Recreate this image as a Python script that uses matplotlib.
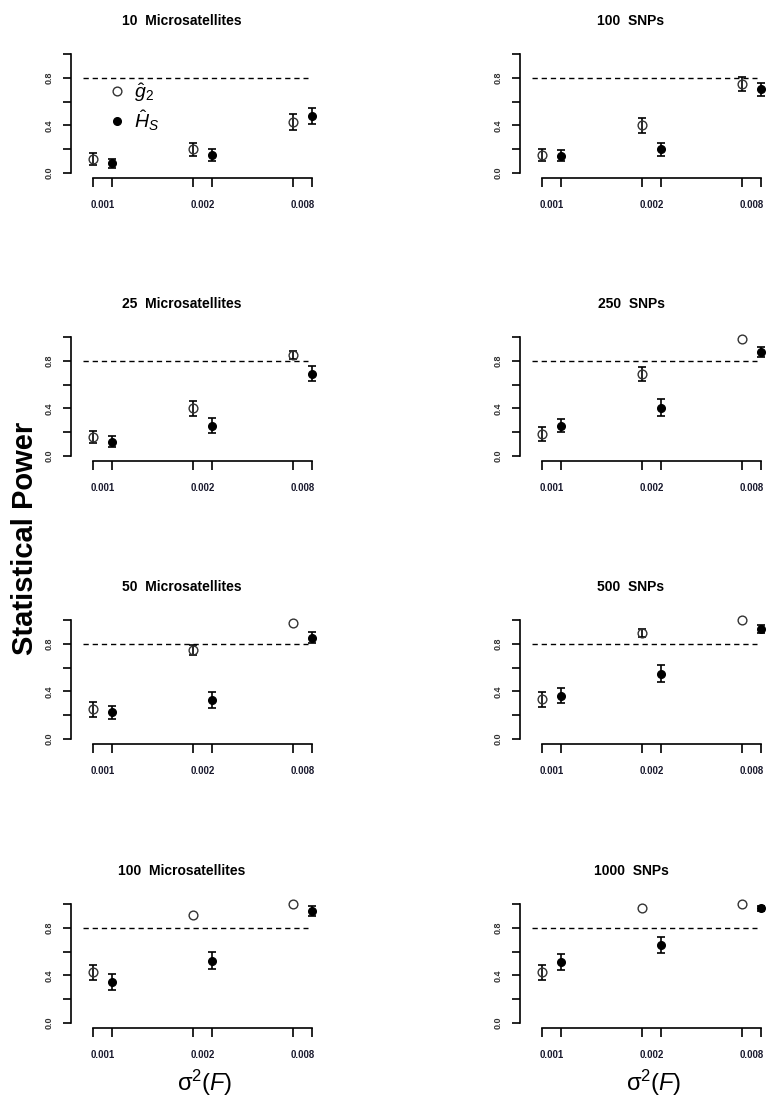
import numpy as np
import matplotlib.pyplot as plt
from matplotlib.lines import Line2D

plt.rcParams['font.family'] = ['Liberation Sans', 'DejaVu Sans']
plt.rcParams['mathtext.fontset'] = 'custom'
plt.rcParams['mathtext.rm'] = 'Liberation Sans'
plt.rcParams['mathtext.it'] = 'Liberation Sans:italic'

# data: power of g2 (open) and Hs (filled) per sigma^2(F)
sigma2_labels = ["0.001", "0.002", "0.008"]
power_threshold = 0.8

micro_titles = ["10  Microsatellites", "25  Microsatellites",
                "50  Microsatellites", "100  Microsatellites"]
micro_g2 = [[0.12, 0.20, 0.43], [0.16, 0.40, 0.85],
            [0.25, 0.75, 0.975], [0.425, 0.91, 1.0]]
micro_g2_err = [[0.05, 0.055, 0.065], [0.05, 0.06, 0.035],
                [0.064, 0.04, 0.0], [0.064, 0.0, 0.0]]
micro_hs = [[0.08, 0.15, 0.48], [0.12, 0.255, 0.69],
            [0.225, 0.325, 0.85], [0.345, 0.525, 0.94]]
micro_hs_err = [[0.035, 0.05, 0.065], [0.045, 0.065, 0.063],
                [0.056, 0.066, 0.047], [0.066, 0.068, 0.04]]

snp_titles = ["100  SNPs", "250  SNPs", "500  SNPs", "1000  SNPs"]
snp_g2 = [[0.155, 0.40, 0.745], [0.185, 0.69, 0.98],
          [0.335, 0.89, 1.0], [0.425, 0.965, 1.0]]
snp_g2_err = [[0.05, 0.065, 0.06], [0.06, 0.06, 0.0],
              [0.062, 0.035, 0.0], [0.064, 0.0, 0.0]]
snp_hs = [[0.145, 0.20, 0.705], [0.255, 0.405, 0.875],
          [0.365, 0.55, 0.925], [0.51, 0.655, 0.965]]
snp_hs_err = [[0.045, 0.055, 0.055], [0.055, 0.07, 0.04],
              [0.065, 0.07, 0.035], [0.066, 0.068, 0.02]]

W, H = 769, 1102
fig = plt.figure(figsize=(W / 100, H / 100), dpi=100)

col_left = [71, 520]          # px of the y axis line
row_zero = [173, 456, 739, 1023]  # px of y = 0
unit = 119                    # px per 1.0 on y
xlim = (-0.22, 2.30)
ax_w = (xlim[1] - xlim[0]) * 100
offset = 0.19
xg = np.arange(3)


def errbars(ax, x, y, e):
    x, y, e = np.asarray(x), np.asarray(y), np.asarray(e)
    keep = e > 0.015
    if keep.any():
        ax.errorbar(x[keep], y[keep], yerr=e[keep], fmt='none', ecolor='black',
                    elinewidth=1.2, capsize=2.6, capthick=1.2, zorder=3)


def panel(col, row, title, g2, g2_err, hs, hs_err, legend=False, xlabel=False):
    left = col_left[col]
    y0 = row_zero[row]
    rect = [left / W, 1 - (y0 + 0.04 * unit) / H, ax_w / W, 1.08 * unit / H]
    ax = fig.add_axes(rect)
    ax.set_xlim(*xlim)
    ax.set_ylim(-0.04, 1.04)
    for s in ['top', 'right']:
        ax.spines[s].set_visible(False)
    ax.spines['left'].set_bounds(0, 1)
    ax.spines['bottom'].set_bounds(xg[0], xg[-1] + offset)
    for s in ['left', 'bottom']:
        ax.spines[s].set_linewidth(1.2)

    ax.set_yticks(np.arange(0, 1.01, 0.2))
    ax.set_yticklabels(['0.0', '', '0.4', '', '0.8', ''])
    ax.tick_params(axis='y', length=5.8, width=1.2, labelsize=6.5, pad=7,
                   labelrotation=90, labelcolor='#333333')
    for lab in ax.get_yticklabels():
        lab.set_fontweight('bold')
        lab.set_va('center')

    ax.set_xticks(np.sort(np.concatenate([xg, xg + offset])))
    ax.set_xticklabels([])
    ax.set_xticks(xg + offset / 2, minor=True)
    ax.set_xticklabels(sigma2_labels, minor=True, fontweight='bold')
    ax.tick_params(axis='x', which='major', length=6.5, width=1.2)
    ax.tick_params(axis='x', which='minor', length=0, labelsize=7, pad=16,
                   labelcolor='#1a1a2e')

    ax.hlines(power_threshold, -0.10, 2.15, colors='black', linewidth=1.0,
              linestyles=(0, (3.8, 2.8)))

    errbars(ax, xg, g2, g2_err)
    errbars(ax, xg + offset, hs, hs_err)
    ax.plot(xg, g2, 'o', mfc='none', mec='#333333', mew=1.0, ms=6.3, zorder=4)
    ax.plot(xg + offset, hs, 'o', color='black', ms=5.5, zorder=4)

    fig.text((left + 111) / W, 1 - (y0 - unit - 33) / H, title,
             ha='center', va='center', fontsize=10, fontweight='bold')

    if legend:
        handles = [Line2D([], [], ls='none', marker='o', mfc='none', mec='#333333',
                          mew=1.0, ms=6.3),
                   Line2D([], [], ls='none', marker='o', color='black', ms=5.5)]
        ax.legend(handles, [r'$\hat{g}_2$', r'$\hat{H}_S$'], loc='center left',
                  bbox_to_anchor=(0.147, 0.55), frameon=False, fontsize=14,
                  handlelength=0.95, handletextpad=0.4, labelspacing=0.2,
                  borderpad=0, borderaxespad=0)
    if xlabel:
        ax.set_xlabel(r'$\mathrm{σ}^2(F)$', fontsize=17)
        ax.xaxis.set_label_coords(0.53, -0.43)
        ax.xaxis.label.set_va('center')
    return ax


for r in range(4):
    panel(0, r, micro_titles[r], micro_g2[r], micro_g2_err[r], micro_hs[r],
          micro_hs_err[r], legend=(r == 0), xlabel=(r == 3))
    panel(1, r, snp_titles[r], snp_g2[r], snp_g2_err[r], snp_hs[r],
          snp_hs_err[r], xlabel=(r == 3))

fig.text(25 / W, 1 - 538 / H, 'Statistical Power', rotation=90, fontsize=21,
         fontweight='bold', ha='center', va='center')

fig.savefig('out.png', dpi=100)
